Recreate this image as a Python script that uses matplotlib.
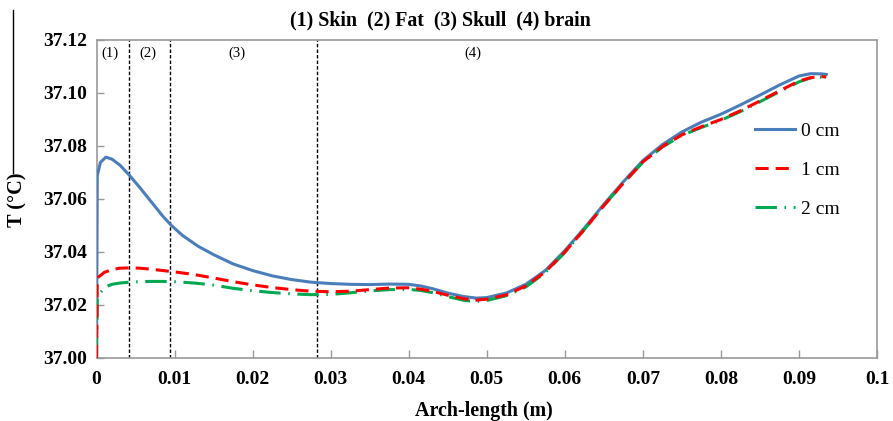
import matplotlib
matplotlib.use("Agg")
import matplotlib.pyplot as plt
from matplotlib.lines import Line2D

# Temperature along the arch for three tumour depths
arch_0 = [0, 0.0001, 0.0005, 0.0012, 0.002, 0.003, 0.0042, 0.0055, 0.007, 0.0085,
          0.0096, 0.011, 0.013, 0.015, 0.0175, 0.02, 0.0225, 0.025, 0.0275, 0.03,
          0.0325, 0.035, 0.0375, 0.04, 0.0415, 0.043, 0.045, 0.047, 0.0487, 0.05,
          0.0525, 0.055, 0.0575, 0.06, 0.0625, 0.065, 0.0675, 0.07, 0.0725, 0.075,
          0.0775, 0.08, 0.0825, 0.085, 0.0875, 0.09, 0.0915, 0.093, 0.0935]
temp_0 = [37.000, 37.0688, 37.0738, 37.0758, 37.0750, 37.0728, 37.0690, 37.0645, 37.0590, 37.0535,
          37.0500, 37.0463, 37.0422, 37.0390, 37.0355, 37.0330, 37.0310, 37.0296, 37.0286, 37.0281,
          37.0278, 37.0277, 37.0279, 37.0278, 37.0272, 37.0262, 37.0245, 37.0232, 37.0226, 37.0228,
          37.0245, 37.0278, 37.0330, 37.0405, 37.0490, 37.0580, 37.0665, 37.0745, 37.0805, 37.0853,
          37.0890, 37.0920, 37.0955, 37.0992, 37.1030, 37.1064, 37.1073, 37.1072, 37.1070]

arch_12 = [0, 0.0001, 0.001, 0.002, 0.003, 0.0042, 0.0055, 0.007, 0.0085, 0.01,
           0.0125, 0.015, 0.0175, 0.02, 0.0225, 0.025, 0.0275, 0.03, 0.0325, 0.035,
           0.0375, 0.04, 0.0415, 0.043, 0.045, 0.047, 0.0485, 0.05, 0.0525, 0.055,
           0.0575, 0.06, 0.0625, 0.065, 0.0675, 0.07, 0.0725, 0.075, 0.0775, 0.08,
           0.0825, 0.085, 0.0875, 0.09, 0.0915, 0.093, 0.0935]
temp_1 = [37.000, 37.0302, 37.0323, 37.0334, 37.0339, 37.0340, 37.0339, 37.0335, 37.0330, 37.0325,
          37.0315, 37.0302, 37.0288, 37.0276, 37.0266, 37.0258, 37.0252, 37.0250, 37.0252, 37.0258,
          37.0264, 37.0265, 37.0260, 37.0252, 37.0237, 37.0224, 37.0218, 37.0222, 37.0238, 37.0272,
          37.0325, 37.0400, 37.0485, 37.0575, 37.0660, 37.0740, 37.0798, 37.0842, 37.0873, 37.0900,
          37.0933, 37.0970, 37.1008, 37.1045, 37.1058, 37.1062, 37.1060]
temp_2 = [37.000, 37.0228, 37.0267, 37.0278, 37.0283, 37.0286, 37.0288, 37.0289, 37.0289, 37.0288,
          37.0283, 37.0275, 37.0263, 37.0254, 37.0247, 37.0242, 37.0239, 37.0240, 37.0246, 37.0253,
          37.0258, 37.0259, 37.0255, 37.0247, 37.0232, 37.0218, 37.0213, 37.0217, 37.0235, 37.0268,
          37.0322, 37.0398, 37.0485, 37.0575, 37.0660, 37.0738, 37.0796, 37.0840, 37.0870, 37.0897,
          37.0930, 37.0967, 37.1005, 37.1042, 37.1057, 37.1060, 37.1058]

# layer boundaries and their labels
boundaries = [0.0042, 0.0094, 0.0283]
layer_pos = [0.0017, 0.0066, 0.018, 0.0482]
layer_names = ["(1)", "(2)", "(3)", "(4)"]

x_ticks = [0, 0.01, 0.02, 0.03, 0.04, 0.05, 0.06, 0.07, 0.08, 0.09, 0.1]
x_ticklabels = ["0", "0.01", "0.02", "0.03", "0.04", "0.05", "0.06", "0.07", "0.08", "0.09", "0.1"]
y_ticks = [37.00, 37.02, 37.04, 37.06, 37.08, 37.10, 37.12]

plt.rcParams['font.family'] = ['Liberation Serif', 'DejaVu Serif']

fig = plt.figure(figsize=(8.93, 4.21), dpi=100)
ax = fig.add_axes([96.5 / 893, 1 - 358 / 421, (877 - 96.5) / 893, (358 - 40) / 421])

for b in boundaries:
    ax.axvline(b, color='black', lw=1.0, ls=(0, (2.5, 1.5)), zorder=1)

ax.plot(arch_0, temp_0, color='#4A7EBB', lw=2.2, label='0 cm', zorder=3)
ax.plot(arch_12, temp_1, color='#FF0000', lw=2.2, ls=(0, (4.3, 2.3)), label='1 cm', zorder=4)
ax.plot(arch_12, temp_2, color='#00A850', lw=2.2, ls=(0, (7, 2.5, 0.5, 2.5)), label='2 cm', zorder=3)

for xp, name in zip(layer_pos, layer_names):
    ax.text(xp, 37.1151, name, ha='center', va='center', fontsize=10.5)

ax.set_xlim(0, 0.1)
ax.set_ylim(37.0, 37.12)
ax.set_xticks(x_ticks)
ax.set_xticklabels(x_ticklabels)
ax.set_yticks(y_ticks)
ax.set_yticklabels(["%.2f" % v for v in y_ticks])
for lab in ax.get_xticklabels() + ax.get_yticklabels():
    lab.set_fontweight('bold')
    lab.set_fontsize(14)

ax.tick_params(axis='both', direction='in', color='#9a9a9a', width=1.0)
ax.tick_params(axis='x', length=6, pad=9)
ax.tick_params(axis='y', length=5, pad=7)
for sp in ax.spines.values():
    sp.set_color('#9a9a9a')
    sp.set_linewidth(1.2)

ax.set_xlabel('Arch-length (m)', fontsize=14.4, fontweight='bold')
ax.set_ylabel('T (\u00b0C)', fontsize=14.6, fontweight='bold')
ax.xaxis.set_label_coords(0.496, -0.134)
ax.yaxis.set_label_coords(-0.089, 0.497)

fig.text(440 / 893, 1 - 20 / 421, '(1) Skin  (2) Fat  (3) Skull  (4) brain',
         ha='center', va='center', fontsize=14.3, fontweight='bold')

ax.legend(loc='center left', bbox_to_anchor=(755 / 893, 1 - 170 / 421),
          bbox_transform=fig.transFigure, frameon=False, fontsize=14,
          handlelength=2.05, handletextpad=0.3, labelspacing=1.1,
          borderpad=0, borderaxespad=0)

# thin rule at the upper left edge
fig.add_artist(Line2D([12.5 / 893, 12.5 / 893], [1 - 10 / 421, 1 - 173 / 421],
                      transform=fig.transFigure, color='black', lw=1.0))

fig.savefig('out.png', dpi=100)
plt.close(fig)
